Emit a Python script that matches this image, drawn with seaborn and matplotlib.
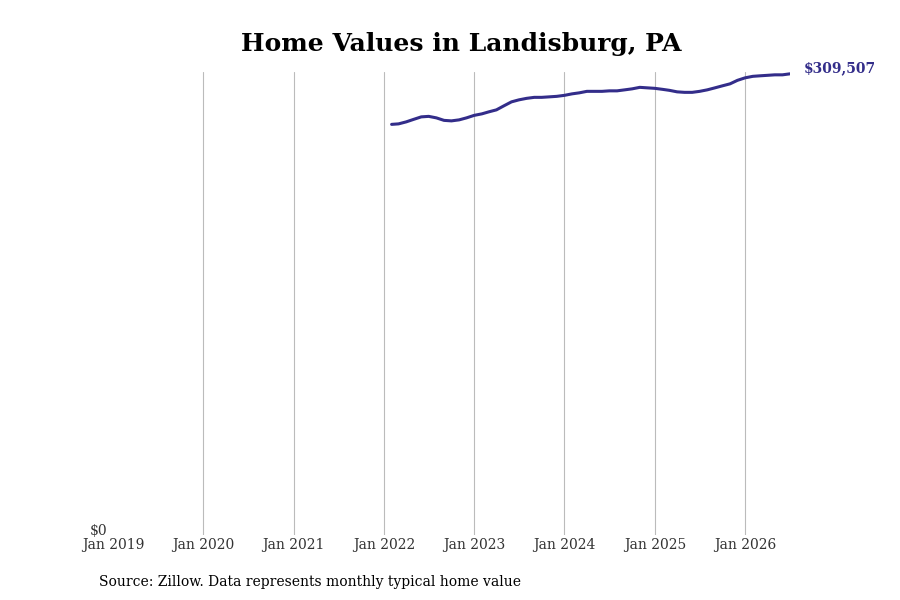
import matplotlib
matplotlib.use("Agg")
import matplotlib.pyplot as plt
import matplotlib.dates as mdates
import pandas as pd
import seaborn as sns

# monthly typical home value, Feb 2022 .. Jul 2026
START_MONTH = "2022-02-01"
VALUES = [
    275610, 275945, 277288, 278967, 280645, 280981, 279974, 278295, 277960, 278631, 279974,
    281652, 282659, 284002, 285345, 288031, 290716, 292059, 293066, 293738, 293738, 294073, 294409,
    295080, 296087, 296759, 297766, 297766, 297766, 298102, 298102, 298773, 299444, 300452, 300116,
    299780, 299109, 298437, 297430, 297095, 297095, 297766, 298773, 300116, 301459, 302801, 305151,
    306830, 307837, 308173, 308508, 308844, 308844, 309507,
]
TICK_YEARS = list(range(2019, 2027))
TITLE = "Home Values in Landisburg, PA"
SOURCE = "Source: Zillow. Data represents monthly typical home value"
LINE_COLOR = "#332d8a"

df = pd.DataFrame({
    "date": pd.date_range(START_MONTH, periods=len(VALUES), freq="MS"),
    "value": VALUES,
})

sns.set_theme(style="white")
plt.rcParams["font.family"] = ["DejaVu Serif"]

fig = plt.figure(figsize=(9, 6), dpi=100)
ax = fig.add_axes([0.1256, 0.108, 0.752, 0.772])

sns.lineplot(data=df, x="date", y="value", color=LINE_COLOR, linewidth=2.2, ax=ax)

ax.set_xlim(pd.Timestamp("2019-01-01"), df["date"].iloc[-1])
ax.set_ylim(0, max(VALUES) * 1.004)

ax.set_xticks([pd.Timestamp(f"{y}-01-01") for y in TICK_YEARS])
ax.xaxis.set_major_formatter(mdates.DateFormatter("%b %Y"))
ax.set_yticks([0])
ax.set_yticklabels(["$0"])
ax.tick_params(axis="both", labelsize=10, colors="#333333", length=0, pad=2)
ax.tick_params(axis="y", pad=4)
for lbl in ax.get_yticklabels():
    lbl.set_verticalalignment("baseline")

ax.grid(axis="x", color="#bbbbbb", linewidth=0.8)
ax.grid(axis="y", visible=False)
# no grid line at the left edge
ax.xaxis.get_gridlines()[0].set_visible(False)
for s in ax.spines.values():
    s.set_visible(False)
ax.set_xlabel("")
ax.set_ylabel("")

last = df.iloc[-1]
ax.annotate(f"${last['value']:,}", xy=(last["date"], last["value"]),
            xytext=(10, -1), textcoords="offset points", va="bottom",
            color=LINE_COLOR, fontsize=10, fontweight="bold", annotation_clip=False)

fig.text(0.512, 0.927, TITLE, ha="center", va="center", fontsize=18,
         fontweight="bold", color="black")
fig.text(0.11, 0.03, SOURCE, ha="left", va="center", fontsize=10, color="black")

fig.savefig("out.png", dpi=100)
